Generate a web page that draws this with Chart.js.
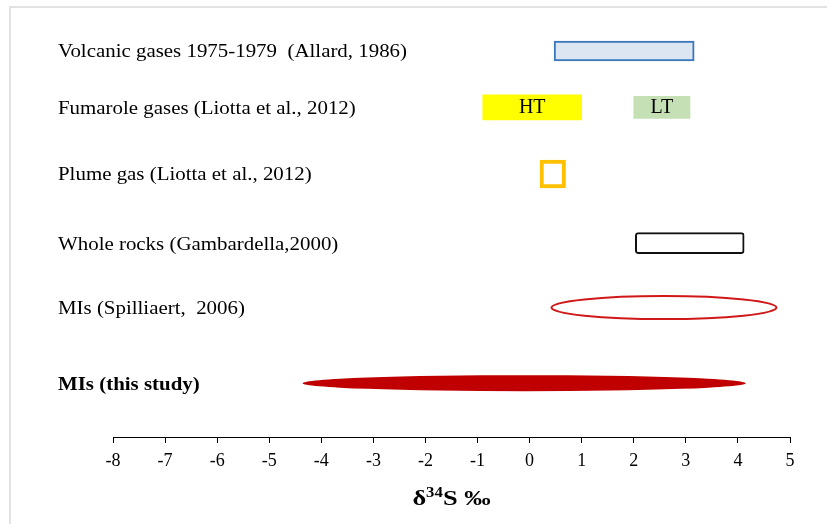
<!DOCTYPE html>
<html>
<head>
<meta charset="utf-8">
<script src="https://cdn.jsdelivr.net/npm/chart.js@4/dist/chart.umd.min.js"></script>
<style>
  html, body { margin: 0; padding: 0; background: #fff; }
  #wrap { width: 829px; height: 524px; }
</style>
</head>
<body>
<div id="wrap"><canvas id="my-canvas" width="829" height="524"></canvas></div>
<script>
// δ34S ranges (‰) per source
const sources = [
    'Volcanic gases 1975-1979  (Allard, 1986)',
    'Fumarole gases (Liotta et al., 2012)',
    'Plume gas (Liotta et al., 2012)',
    'Whole rocks (Gambardella,2000)',
    'MIs (Spilliaert,  2006)',
    'MIs (this study)'
]
const volcanicGases = [0.47, 3.16]
const fumaroleHT = [-0.9, 1.0]
const fumaroleLT = [2.0, 3.08]
const plumeGas = [0.2, 0.69]
const wholeRocks = [2.03, 4.12]
const miSpilliaert = [0.42, 4.74]
const miThisStudy = [-4.36, 4.15]
const deltaTicks = [-8, -7, -6, -5, -4, -3, -2, -1, 0, 1, 2, 3, 4, 5]

// vertical placement of each row, in % of the plot height (top = 0)
const rowLevel = [9.6, 22.8, 38.4, 54.6, 69.7, 87.4]

const serif = '"Liberation Serif", "Times New Roman", serif'

window.onload = () => {

    const canvas = document.querySelector("#my-canvas")
    const ctx = canvas.getContext('2d')

    const bar = (label, range, row, style) => Object.assign({
        label: label,
        data: [{ x: range, y: rowLevel[row] }],
        grouped: false,
        borderSkipped: false,
        barPercentage: 1,
        categoryPercentage: 1
    }, style)

    const datasets = [
        bar('Volcanic gases', volcanicGases, 0, {
            backgroundColor: '#DCE6F2', borderColor: '#3A76BC', borderWidth: 2, maxBarThickness: 20
        }),
        bar('HT', fumaroleHT, 1, {
            backgroundColor: '#FFFF00', borderWidth: 0, maxBarThickness: 25, inner: 'HT'
        }),
        bar('LT', fumaroleLT, 1, {
            backgroundColor: '#C5E0B4', borderWidth: 0, maxBarThickness: 22, inner: 'LT'
        }),
        bar('Plume gas', plumeGas, 2, {
            backgroundColor: '#FFFFFF', borderColor: '#FFC000', borderWidth: 4, maxBarThickness: 28
        }),
        bar('Whole rocks', wholeRocks, 3, {
            backgroundColor: '#FFFFFF', borderColor: '#111111', borderWidth: 2, borderRadius: 3, maxBarThickness: 21
        }),
        // the two melt inclusion ranges are drawn as ellipses over the bar geometry
        bar('MIs Spilliaert', miSpilliaert, 4, {
            backgroundColor: 'rgba(0,0,0,0)', borderWidth: 0, maxBarThickness: 23,
            ellipse: { stroke: '#D01818', lineWidth: 2 }
        }),
        bar('MIs this study', miThisStudy, 5, {
            backgroundColor: 'rgba(0,0,0,0)', borderWidth: 0, maxBarThickness: 16,
            ellipse: { fill: '#C00000' }
        })
    ]

    const frame = {
        id: 'frame',
        beforeDraw(chart) {
            const c = chart.ctx
            c.save()
            c.fillStyle = '#fff'
            c.fillRect(0, 0, chart.width, chart.height)
            c.strokeStyle = '#D9D9D9'
            c.lineWidth = 1.5
            c.beginPath()
            c.moveTo(10, chart.height)
            c.lineTo(10, 7)
            c.lineTo(827, 7)
            c.stroke()
            c.restore()
        }
    }

    const shapes = {
        id: 'shapes',
        afterDatasetsDraw(chart) {
            const c = chart.ctx
            chart.data.datasets.forEach((ds, i) => {
                const el = chart.getDatasetMeta(i).data[0]
                if (!el) return
                const p = el.getProps(['x', 'y', 'base', 'height'], true)
                if (ds.ellipse) {
                    c.save()
                    c.beginPath()
                    c.ellipse((p.x + p.base) / 2, p.y, Math.abs(p.x - p.base) / 2, p.height / 2, 0, 0, Math.PI * 2)
                    if (ds.ellipse.fill) {
                        c.fillStyle = ds.ellipse.fill
                        c.fill()
                    }
                    if (ds.ellipse.stroke) {
                        c.strokeStyle = ds.ellipse.stroke
                        c.lineWidth = ds.ellipse.lineWidth
                        c.stroke()
                    }
                    c.restore()
                }
                if (ds.inner) {
                    c.save()
                    c.fillStyle = '#000'
                    c.font = '20px ' + serif
                    c.textAlign = 'center'
                    c.textBaseline = 'middle'
                    c.fillText(ds.inner, (p.x + p.base) / 2, p.y)
                    c.restore()
                }
            })
        }
    }

    const rowLabels = {
        id: 'rowLabels',
        afterDraw(chart) {
            const c = chart.ctx
            const yScale = chart.scales.y
            const xScale = chart.scales.x
            c.save()
            c.fillStyle = '#000'
            c.textBaseline = 'middle'
            sources.forEach((name, i) => {
                const bold = i === sources.length - 1
                c.font = (bold ? 'bold ' : '') + '19px ' + serif
                c.save()
                c.translate(58, yScale.getPixelForValue(rowLevel[i]) + 1.5)
                c.scale(1.1, 1)
                c.fillText(name, 0, 0)
                c.restore()
            })

            // axis title with superscript isotope mass
            const cx = (xScale.left + xScale.right) / 2
            const by = chart.chartArea.bottom + 68
            const big = 'bold 22px ' + serif
            const small = 'bold 14px ' + serif
            c.font = big
            const wD = c.measureText('δ').width
            const wS = c.measureText('S ‰').width
            c.font = small
            const w34 = c.measureText('34').width
            const sx = 1.2
            const total = (wD + w34 + wS) * sx
            c.translate(cx - total / 2, by)
            c.scale(sx, 1)
            c.textBaseline = 'alphabetic'
            c.font = big
            c.fillText('δ', 0, 0)
            c.font = small
            c.fillText('34', wD, -8)
            c.font = big
            c.fillText('S ‰', wD + w34, 0)
            c.restore()
        }
    }

    new Chart(ctx, {
        type: 'bar',
        data: { datasets: datasets },
        options: {
            indexAxis: 'y',
            responsive: false,
            animation: false,
            layout: { padding: { left: 113, right: 39, top: 10, bottom: 0 } },
            plugins: { legend: { display: false }, tooltip: { enabled: false } },
            scales: {
                y: { type: 'linear', display: false, offset: false, reverse: true, min: 0, max: 100 },
                x: {
                    type: 'linear',
                    min: deltaTicks[0],
                    max: deltaTicks[deltaTicks.length - 1],
                    afterBuildTicks: (scale) => {
                        scale.ticks = deltaTicks.map(v => ({ value: v }))
                    },
                    afterFit: (scale) => { scale.height = 87 },
                    grid: { drawOnChartArea: false, drawTicks: true, tickLength: 6, color: '#000', lineWidth: 1 },
                    border: { color: '#000', width: 1 },
                    ticks: {
                        color: '#000',
                        font: { family: serif, size: 18 },
                        padding: 7,
                        maxRotation: 0,
                        autoSkip: false
                    }
                }
            }
        },
        plugins: [frame, shapes, rowLabels]
    })
}
</script>
</body>
</html>
